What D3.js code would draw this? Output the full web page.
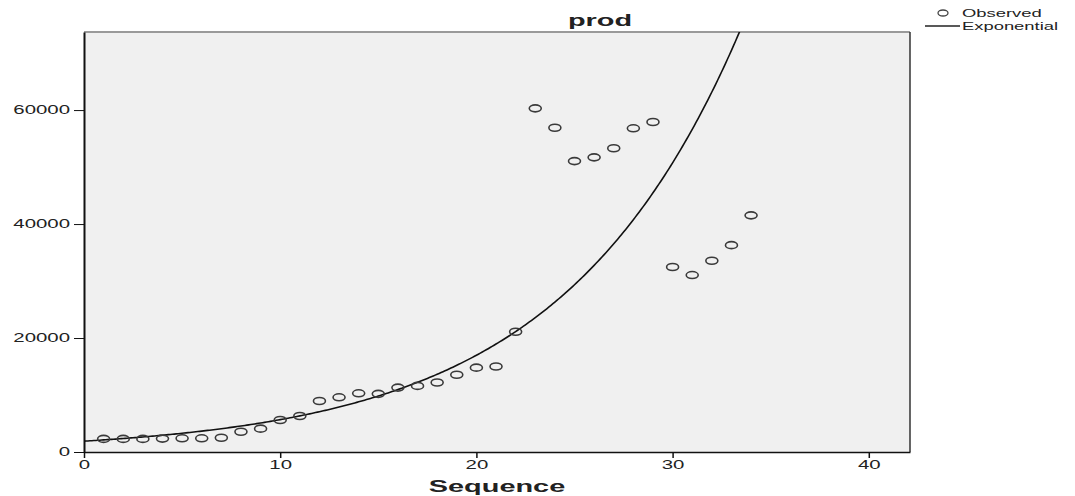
<!DOCTYPE html>
<html>
<head>
<meta charset="utf-8">
<script src="https://cdn.jsdelivr.net/npm/d3@7"></script>
<style>
  body { margin: 0; background: #fff; }
  text { font-family: "Liberation Sans", Arial, sans-serif; fill: #222; }
  .axis path, .axis line { stroke: #111; }
</style>
</head>
<body>
<div id="chart"></div>
<script>
// sequence number of each observation
const sequence = d3.range(1, 35);
const prod = [2300, 2300, 2300, 2350, 2400, 2400, 2500, 3560, 4100, 5610,
              6320, 8950, 9600, 10300, 10200, 11300, 11600, 12200, 13560, 14800,
              15000, 21100, 60300, 56900, 51050, 51700, 53300, 56800, 57900, 32460,
              31050, 33560, 36300, 41530];
// exponential fit: prod = b0 * exp(b1 * t), coefficients
const fitB0 = 1900;
const fitB1 = 0.1095;
const xTicks = [0, 10, 20, 30, 40];
const yTicks = [0, 20000, 40000, 60000];
const legendLabels = ["Observed", "Exponential"];

function drawChart() {
    const W = 1075, H = 496;
    const plot = { left: 84, right: 910, top: 32, bottom: 452 };
    const stretch = 1.7; // the reference text is drawn wide

    const svg = d3.select("#chart").append("svg")
        .attr("width", W)
        .attr("height", H);

    const x = d3.scaleLinear().domain([0, 42.1]).range([plot.left, plot.right]);
    const y = d3.scaleLinear().domain([0, 73700]).range([plot.bottom, plot.top]);

    // plot background and frame
    svg.append("rect")
        .attr("x", plot.left).attr("y", plot.top)
        .attr("width", plot.right - plot.left)
        .attr("height", plot.bottom - plot.top)
        .attr("fill", "#f0f0f0");
    svg.append("line")
        .attr("x1", plot.left).attr("x2", plot.right)
        .attr("y1", plot.top).attr("y2", plot.top)
        .attr("stroke", "#9a9a9a").attr("stroke-width", 2);
    svg.append("line")
        .attr("x1", plot.right).attr("x2", plot.right)
        .attr("y1", plot.top).attr("y2", plot.bottom)
        .attr("stroke", "#333").attr("stroke-width", 1.5);

    svg.append("clipPath").attr("id", "clip")
        .append("rect")
        .attr("x", plot.left).attr("y", plot.top)
        .attr("width", plot.right - plot.left)
        .attr("height", plot.bottom - plot.top);

    // fitted exponential curve
    const curveX = d3.range(0, 42.1, 0.1);
    const line = d3.line()
        .x(t => x(t))
        .y(t => y(fitB0 * Math.exp(fitB1 * t)));
    svg.append("path")
        .attr("clip-path", "url(#clip)")
        .attr("d", line(curveX))
        .attr("fill", "none")
        .attr("stroke", "#111")
        .attr("stroke-width", 1.6);

    // observed points
    svg.selectAll(".pt")
        .data(sequence)
        .enter()
        .append("ellipse")
        .attr("class", "pt")
        .attr("cx", (d) => x(d))
        .attr("cy", (d, i) => y(prod[i]))
        .attr("rx", 6)
        .attr("ry", 3.5)
        .attr("fill", "none")
        .attr("stroke", "#3a3a3a")
        .attr("stroke-width", 1.6);

    // axes
    const xAxis = svg.append("g")
        .attr("class", "axis")
        .attr("transform", `translate(0,${plot.bottom})`)
        .call(d3.axisBottom(x).tickValues(xTicks).tickSize(6).tickPadding(2).tickSizeOuter(0));
    xAxis.select(".domain").attr("stroke-width", 1.5);
    xAxis.selectAll("line").attr("stroke-width", 1.5);
    xAxis.selectAll("text")
        .attr("font-size", 12)
        .attr("font-family", "Liberation Sans, Arial, sans-serif")
        .attr("fill", "#333")
        .attr("transform", `scale(${stretch},1)`)
        .attr("x", 0);

    const yAxis = svg.append("g")
        .attr("class", "axis")
        .attr("transform", `translate(${plot.left},0)`)
        .call(d3.axisLeft(y).tickValues(yTicks).tickSize(10).tickPadding(1).tickFormat(d3.format("d")).tickSizeOuter(0));
    yAxis.select(".domain").attr("stroke-width", 2);
    yAxis.selectAll("line").attr("stroke-width", 1);
    yAxis.selectAll("text")
        .attr("font-size", 12)
        .attr("font-family", "Liberation Sans, Arial, sans-serif")
        .attr("fill", "#333")
        .attr("x", -14 / stretch)
        .attr("transform", `scale(${stretch},1)`);

    // title and axis title
    svg.append("text")
        .attr("transform", `translate(600,26) scale(${stretch},1)`)
        .attr("text-anchor", "middle")
        .attr("font-size", 17)
        .attr("font-weight", "bold")
        .attr("fill", "#111")
        .text("prod");

    svg.append("text")
        .attr("transform", `translate(${(plot.left + plot.right) / 2},492) scale(${stretch},1)`)
        .attr("text-anchor", "middle")
        .attr("font-size", 17)
        .attr("font-weight", "bold")
        .attr("fill", "#111")
        .text("Sequence");

    // legend
    const lg = svg.append("g");
    lg.append("ellipse")
        .attr("cx", 943).attr("cy", 13)
        .attr("rx", 5).attr("ry", 3)
        .attr("fill", "none")
        .attr("stroke", "#444")
        .attr("stroke-width", 1.3);
    lg.append("line")
        .attr("x1", 925).attr("x2", 960)
        .attr("y1", 26).attr("y2", 26)
        .attr("stroke", "#222")
        .attr("stroke-width", 1.3);
    lg.selectAll(".lg-text")
        .data(legendLabels)
        .enter()
        .append("text")
        .attr("class", "lg-text")
        .attr("transform", (d, i) => `translate(962,${17 + i * 13}) scale(1.6,1)`)
        .attr("font-size", 11.5)
        .attr("fill", "#333")
        .text(d => d);
}

drawChart();
</script>
</body>
</html>
